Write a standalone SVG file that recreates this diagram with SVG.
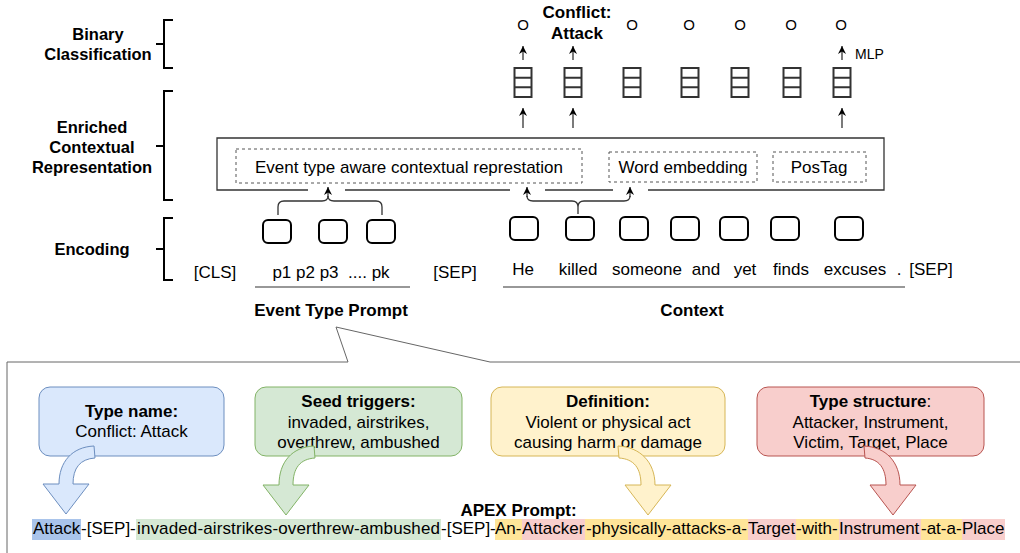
<svg xmlns="http://www.w3.org/2000/svg" width="1020" height="553" viewBox="0 0 1020 553">
<defs>
<style>
text{font-family:"Liberation Sans",Arial,Helvetica,sans-serif;font-size:17px;fill:#000}
.b{font-weight:bold}
.c{text-anchor:middle}
.lbl{font-size:16.5px;font-weight:bold;text-anchor:middle}
.brk{fill:none;stroke:#000;stroke-width:2}
.tok{fill:#fff;stroke:#000;stroke-width:2}
.stk{fill:#fff;stroke:#333;stroke-width:2}
.dash{fill:none;stroke:#555;stroke-width:1;stroke-dasharray:3 3}
.ln{fill:none;stroke:#333;stroke-width:1.3}
.ul{stroke:#333;stroke-width:1.2}
.o{font-size:15px;text-anchor:middle}
</style>
<marker id="ah" viewBox="0 0 10 10" refX="10" refY="5" markerWidth="8" markerHeight="8" orient="auto" markerUnits="userSpaceOnUse"><path d="M0,0 L10,5 L0,10 L3,5 Z" fill="#000"/></marker>
<g id="stkshape" class="stk"><rect x="-8.5" y="0" width="17" height="29"/><path d="M-8.5,9.7 H8.5 M-8.5,19.3 H8.5"/></g>
</defs>
<rect width="1020" height="553" fill="#fff"/>

<g id="label-binary">
<path class="brk" d="M173,20 H164 V68 H173 M164,44 H156"/>
<text class="lbl" x="98" y="40">Binary</text>
<text class="lbl" x="98" y="60">Classification</text>
</g>
<g id="label-enriched">
<path class="brk" d="M173,91 H164 V200 H173 M164,146 H156"/>
<text class="lbl" x="92" y="133">Enriched</text>
<text class="lbl" x="92" y="153">Contextual</text>
<text class="lbl" x="92" y="173">Representation</text>
</g>
<g id="label-encoding">
<path class="brk" d="M173,218 H164 V280 H173 M164,249 H156"/>
<text class="lbl" x="92" y="255">Encoding</text>
</g>

<g id="outputs">
<text class="o" x="523" y="30">O</text>
<text class="b c" x="577" y="18">Conflict:</text>
<text class="b c" x="577" y="39">Attack</text>
<text class="o" x="632" y="30">O</text>
<text class="o" x="689" y="30">O</text>
<text class="o" x="740" y="30">O</text>
<text class="o" x="791" y="30">O</text>
<text class="o" x="841" y="30">O</text>
<text x="855" y="59" style="font-size:14px">MLP</text>
</g>

<g id="mlp-stacks">
<use href="#stkshape" x="523" y="68"/>
<use href="#stkshape" x="573" y="68"/>
<use href="#stkshape" x="632" y="68"/>
<use href="#stkshape" x="690" y="68"/>
<use href="#stkshape" x="740" y="68"/>
<use href="#stkshape" x="792" y="68"/>
<use href="#stkshape" x="842" y="68"/>
</g>

<g id="contextual-box">
<path d="M648,190 H884 V138 H217 V190 H308 M345,190 H510 M545,190 H613" fill="none" stroke="#333" stroke-width="1.3"/>
</g>
<g id="event-aware">
<rect class="dash" x="236" y="149" width="346" height="34"/>
<text class="c" x="409" y="173">Event type aware contextual represtation</text>
</g>
<g id="word-embedding">
<rect class="dash" x="609" y="152" width="148" height="30"/>
<text class="c" x="683" y="173">Word embedding</text>
</g>
<g id="postag">
<rect class="dash" x="773" y="152" width="93" height="30"/>
<text class="c" x="819" y="173">PosTag</text>
</g>

<g id="prompt-tokens">
<rect class="tok" x="263" y="220" width="28" height="23" rx="5"/>
<rect class="tok" x="319" y="220" width="28" height="23" rx="5"/>
<rect class="tok" x="367" y="220" width="28" height="23" rx="5"/>
<text class="c" x="215" y="278">[CLS]</text>
<text class="c" x="331" y="278" style="white-space:pre">p1 p2 p3  .... pk</text>
<text class="c" x="455" y="278">[SEP]</text>
<line class="ul" x1="255" y1="287" x2="410" y2="287"/>
<text class="b c" x="331" y="316">Event Type Prompt</text>
</g>

<g id="context-tokens">
<rect class="tok" x="510" y="217" width="28" height="23" rx="5"/>
<rect class="tok" x="566" y="217" width="28" height="23" rx="5"/>
<rect class="tok" x="620" y="217" width="28" height="23" rx="5"/>
<rect class="tok" x="671" y="217" width="28" height="23" rx="5"/>
<rect class="tok" x="720" y="217" width="28" height="23" rx="5"/>
<rect class="tok" x="771" y="217" width="28" height="23" rx="5"/>
<rect class="tok" x="835" y="217" width="28" height="23" rx="5"/>
<text class="c" x="523" y="275">He</text>
<text class="c" x="578" y="275">killed</text>
<text class="c" x="647" y="275">someone</text>
<text class="c" x="706" y="275">and</text>
<text class="c" x="745" y="275">yet</text>
<text class="c" x="791" y="275">finds</text>
<text class="c" x="855" y="275">excuses</text>
<text class="c" x="899" y="275">.</text>
<text class="c" x="931" y="275">[SEP]</text>
<line class="ul" x1="503" y1="287" x2="905" y2="287"/>
<text class="b c" x="692" y="316">Context</text>
</g>

<g id="callout">
<path d="M7,553 V362 H348 L336,327 L490,362 H1030" fill="none" stroke="#666" stroke-width="1"/>
</g>

<g id="type-name">
<rect x="39" y="387" width="185" height="69" rx="11" fill="#dae8fc" stroke="#6c8ebf"/>
<text class="b c" x="131.5" y="417">Type name:</text>
<text class="c" x="131.5" y="437">Conflict: Attack</text>
</g>
<g id="seed-triggers">
<rect x="255" y="387" width="207" height="69" rx="11" fill="#d5e8d4" stroke="#82b366"/>
<text class="b c" x="358.5" y="407">Seed triggers:</text>
<text class="c" x="358.5" y="428">invaded, airstrikes,</text>
<text class="c" x="358.5" y="448">overthrew, ambushed</text>
</g>
<g id="definition">
<rect x="491" y="387" width="234" height="69" rx="11" fill="#fff2cc" stroke="#d6b656"/>
<text class="b c" x="608" y="407">Definition:</text>
<text class="c" x="608" y="428">Violent or physical act</text>
<text class="c" x="608" y="448">causing harm or damage</text>
</g>
<g id="type-structure">
<rect x="757" y="387" width="227" height="69" rx="11" fill="#f8cecc" stroke="#b85450"/>
<text class="c" x="870.5" y="407"><tspan class="b">Type structure</tspan>:</text>
<text class="c" x="870.5" y="428">Attacker, Instrument,</text>
<text class="c" x="870.5" y="448">Victim, Target, Place</text>
</g>

<g id="apex-prompt">
<text class="b c" x="518.5" y="516">APEX Prompt:</text>
<rect x="32" y="519" width="49" height="21" fill="#a9c4eb"/>
<rect x="136" y="519" width="305" height="21" fill="#d5e8d4"/>
<rect x="495" y="519" width="27" height="21" fill="#ffe599"/>
<rect x="522" y="519" width="63" height="21" fill="#f8cecc"/>
<rect x="585" y="519" width="163" height="21" fill="#ffe599"/>
<rect x="748" y="519" width="48" height="21" fill="#f8cecc"/>
<rect x="796" y="519" width="43" height="21" fill="#ffe599"/>
<rect x="839" y="519" width="82" height="21" fill="#f8cecc"/>
<rect x="921" y="519" width="41" height="21" fill="#ffe599"/>
<rect x="962" y="519" width="43" height="21" fill="#f8cecc"/>
<text y="534"><tspan x="33">Attack</tspan><tspan x="81">-[SEP]-</tspan><tspan x="137" textLength="303" lengthAdjust="spacing">invaded-airstrikes-overthrew-ambushed</tspan><tspan x="441">-[SEP]-</tspan><tspan x="495">An-</tspan><tspan x="522">Attacker</tspan><tspan x="586" textLength="161" lengthAdjust="spacing">-physically-attacks-a-</tspan><tspan x="748">Target</tspan><tspan x="796">-with-</tspan><tspan x="839">Instrument</tspan><tspan x="921">-at-a-</tspan><tspan x="962">Place</tspan></text>
</g>

<g id="connectors">
<path class="ln" marker-end="url(#ah)" d="M523,60 V46"/>
<path class="ln" marker-end="url(#ah)" d="M573,60 V46"/>
<path class="ln" marker-end="url(#ah)" d="M842,60 V46"/>
<path class="ln" marker-end="url(#ah)" d="M523,128 V108"/>
<path class="ln" marker-end="url(#ah)" d="M573,128 V108"/>
<path class="ln" marker-end="url(#ah)" d="M842,128 V108"/>
<path class="ln" d="M278,215 V207 Q278,201 284,201 H322 Q328,201 328,196 Q328,201 334,201 H376 Q382,201 382,207 V215"/>
<path class="ln" marker-end="url(#ah)" d="M328,197 V187"/>
<path class="ln" d="M527,196 Q527,201 533,201 H572 Q578,201 578,207 V214 M578,207 Q578,201 584,201 H624 Q630,201 630,196"/>
<path class="ln" marker-end="url(#ah)" d="M527,197 V187"/>
<path class="ln" marker-end="url(#ah)" d="M630,197 V187"/>
<path d="M94,446 C72,447 59,462 59,484 L43,484 L66,514 L89,484 L73,484 C73,468 80,459 95,458 Z" fill="#dae8fc" stroke="#6c8ebf"/>
<path d="M314,446 C292,447 279,462 279,485 L263,485 L286,515 L309,485 L293,485 C293,468 300,459 315,458 Z" fill="#d5e8d4" stroke="#82b366"/>
<path d="M618,446 C640,447 655,462 655,485 L671,485 L648,515 L625,485 L641,485 C641,468 634,459 619,458 Z" fill="#fff2cc" stroke="#d6b656"/>
<path d="M864,446 C886,447 900,462 900,485 L916,485 L893,515 L870,485 L886,485 C886,468 879,459 865,458 Z" fill="#f8cecc" stroke="#b85450"/>
</g>
</svg>
